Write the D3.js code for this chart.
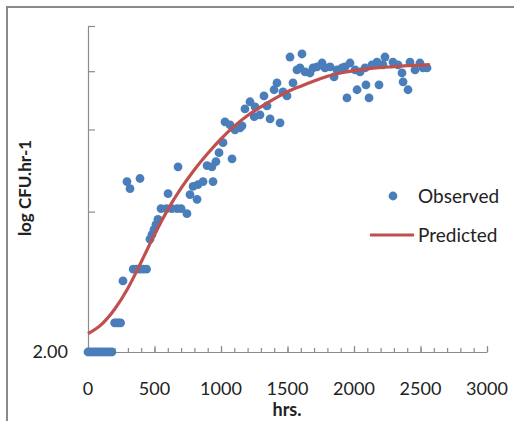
<!DOCTYPE html>
<html>
<head>
<meta charset="utf-8">
<script src="https://cdnjs.cloudflare.com/ajax/libs/d3/7.8.5/d3.min.js"></script>
<style>
  body { margin: 0; background: #fff; }
  text { font-family: Lato, "Open Sans", sans-serif; fill: #222; }
  .axis path, .axis line { stroke: #8c8c8c; stroke-width: 1.2; }
</style>
</head>
<body>
<script>
// observed: hours and log CFU values
const obsHrs = [
    0, 20, 40, 60, 80, 100, 120, 140, 160, 180,
    200, 215, 230, 245, 263, 293, 316, 340, 365, 390, 391, 415, 440,
    466, 481, 496, 511, 526, 549, 590, 630, 670, 700, 744, 602, 677,
    767, 790, 820, 827, 865, 895, 932, 940, 962, 985, 1015, 1030, 1068,
    1083, 1105, 1143, 1158, 1180, 1218, 1250, 1256, 1293, 1323, 1346,
    1369, 1399, 1421, 1444, 1466, 1496, 1519, 1541, 1571, 1594, 1609,
    1632, 1669, 1692, 1722, 1760, 1782, 1820, 1850, 1872, 1910, 1932,
    1947, 1970, 2008, 2023, 2045, 2083, 2090, 2113, 2135, 2173, 2188,
    2196, 2218, 2233, 2293, 2331, 2361, 2369, 2406, 2421, 2459, 2496,
    2519, 2549
];
const obsLog = [
    2.00, 2.00, 2.00, 2.00, 2.00, 2.00, 2.00, 2.00, 2.00, 2.00,
    2.31, 2.31, 2.31, 2.31, 2.84, 4.64, 4.48, 3.01, 3.01, 3.01, 4.71, 3.01, 3.01,
    3.49, 3.57, 3.66, 3.75, 3.85, 4.06, 4.06, 4.06, 4.06, 4.06, 3.96, 4.37, 4.99,
    4.35, 4.53, 4.25, 4.57, 4.64, 5.02, 4.99, 4.64, 5.12, 5.35, 5.62, 6.23, 6.14,
    5.19, 5.99, 6.05, 6.11, 6.64, 6.88, 6.39, 6.71, 6.45, 7.08, 6.74,
    6.32, 7.30, 7.55, 6.20, 7.22, 7.08, 8.58, 7.55, 8.05, 8.13, 8.71,
    7.97, 7.93, 8.13, 8.17, 8.33, 8.13, 8.17, 7.78, 8.05, 8.13, 8.17,
    7.01, 8.33, 8.05, 7.30, 7.97, 8.13, 7.48, 7.01, 8.25, 8.37, 7.48,
    8.25, 8.25, 8.58, 8.37, 8.25, 7.93, 7.59, 7.30, 8.37, 8.05, 8.33,
    8.13, 8.13
];

// predicted curve
const predHrs = [0, 100, 200, 300, 400, 500, 600, 700, 800, 900, 1000, 1100, 1200,
    1300, 1400, 1500, 1600, 1700, 1800, 1900, 2000, 2100, 2200, 2300, 2400, 2500, 2570];
const predLog = [2.19, 2.29, 2.47, 2.74, 3.12, 3.57, 4.04, 4.49, 4.92, 5.33, 5.73, 6.10, 6.43,
    6.71, 6.98, 7.23, 7.43, 7.62, 7.80, 7.93, 8.02, 8.09, 8.15, 8.18, 8.22, 8.24, 8.26];

const xTicks = [0, 500, 1000, 1500, 2000, 2500, 3000];
const yTicks = [2, 4, 6, 8, 10];
const yTickLabels = ["2.00", "", "", "", ""];

const W = 514, H = 421;
const margin = { top: 26, right: 27, bottom: 69, left: 88 },
    width = W - margin.left - margin.right,
    height = H - margin.top - margin.bottom;

const x = d3.scaleLinear().domain([0, 3000]).range([0, width]);
const y = d3.scaleLog().domain([2, 10]).range([height, 0]);

const svg = d3.select("body").append("svg")
    .attr("width", W)
    .attr("height", H);

// frame (only top and left edges visible)
svg.append("path")
    .attr("d", "M7,421V7H514")
    .attr("fill", "none")
    .attr("stroke", "#8a8a8a")
    .attr("stroke-width", 2);

const g = svg.append("g")
    .attr("transform", "translate(" + margin.left + "," + margin.top + ")");

// x axis, minor ticks every 100
g.append("g")
    .attr("class", "axis")
    .attr("transform", "translate(0," + height + ")")
    .call(d3.axisTop(x).tickValues(d3.range(0, 3001, 100)).tickSize(4).tickFormat(""))
    .call(a => a.select(".domain").remove());

g.append("g")
    .attr("class", "axis")
    .attr("transform", "translate(0," + height + ")")
    .call(d3.axisTop(x).tickValues(xTicks).tickSize(6).tickSizeOuter(0).tickFormat(""));

g.append("g")
    .attr("transform", "translate(0," + height + ")")
    .selectAll("text")
    .data(xTicks)
    .enter().append("text")
    .attr("x", d => x(d))
    .attr("y", 43)
    .attr("text-anchor", "middle")
    .style("font-size", "18px")
    .text(d => d);

// y axis
g.append("g")
    .attr("class", "axis")
    .call(d3.axisRight(y).tickValues(yTicks).tickSize(7).tickSizeOuter(0).tickFormat(""));

g.append("g")
    .selectAll("text")
    .data(yTicks)
    .enter().append("text")
    .attr("x", -20)
    .attr("y", d => y(d) + 6)
    .attr("text-anchor", "end")
    .style("font-size", "18px")
    .text((d, i) => yTickLabels[i]);

// axis titles
svg.append("text")
    .attr("transform", "translate(31,188) rotate(-90)")
    .attr("text-anchor", "middle")
    .style("font-size", "17px")
    .style("font-weight", "bold")
    .text("log CFU.hr-1");

svg.append("text")
    .attr("x", 287)
    .attr("y", 416)
    .attr("text-anchor", "middle")
    .style("font-size", "18px")
    .style("font-weight", "bold")
    .text("hrs.");

// observed points
g.selectAll(".dot")
    .data(obsHrs)
    .enter().append("circle")
    .attr("class", "dot")
    .attr("cx", d => x(d))
    .attr("cy", (d, i) => y(obsLog[i]))
    .attr("r", 4.4)
    .attr("fill", "#4a7ebb");

// predicted line
const line = d3.line()
    .x(d => x(d))
    .y((d, i) => y(predLog[i]))
    .curve(d3.curveMonotoneX);

g.append("path")
    .datum(predHrs)
    .attr("d", line)
    .attr("fill", "none")
    .attr("stroke", "#c0504d")
    .attr("stroke-width", 3.2);

// legend
const legend = svg.append("g");
legend.append("circle")
    .attr("cx", 393).attr("cy", 196).attr("r", 4.4)
    .attr("fill", "#4a7ebb");
legend.append("text")
    .attr("x", 418).attr("y", 203)
    .style("font-size", "19px")
    .text("Observed");
legend.append("line")
    .attr("x1", 370).attr("x2", 414).attr("y1", 235).attr("y2", 235)
    .attr("stroke", "#c0504d").attr("stroke-width", 3.2);
legend.append("text")
    .attr("x", 418).attr("y", 242)
    .style("font-size", "19px")
    .text("Predicted");
</script>
</body>
</html>
